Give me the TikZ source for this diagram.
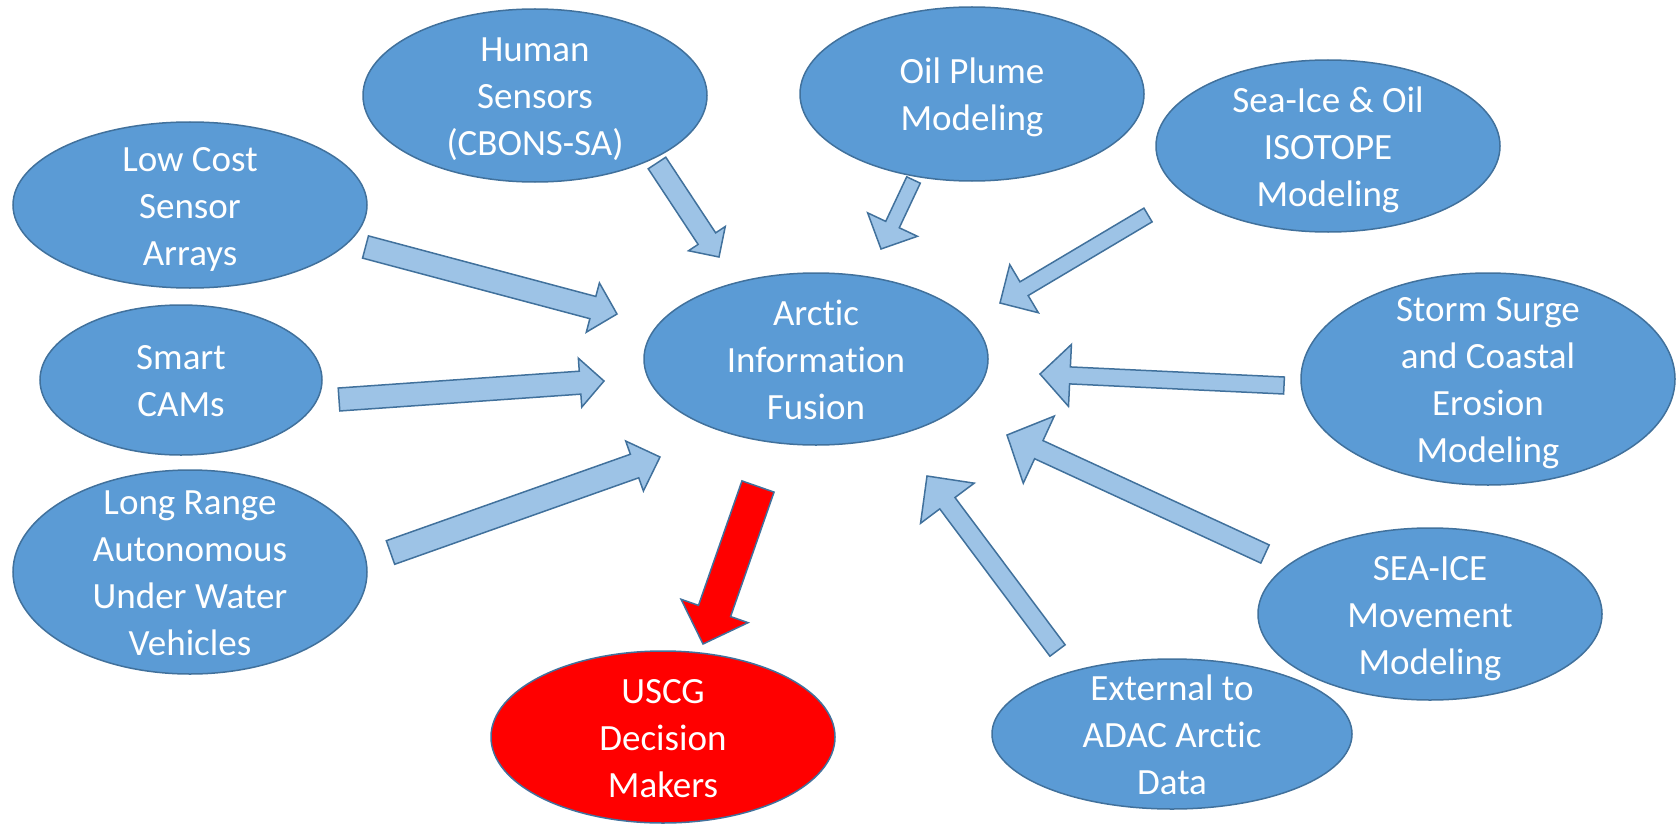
\documentclass[tikz,border=0pt]{standalone}
\usepackage{fontspec}
\setmainfont[Ligatures={NoCommon}]{Carlito}
\usetikzlibrary{calc,shapes.geometric}
\definecolor{nodeblue}{HTML}{5B9BD5}
\definecolor{edgeblue}{HTML}{41719C}
\definecolor{arrowblue}{HTML}{9DC3E6}
\definecolor{alertred}{HTML}{FF0000}
% #1 style, #2 tail coordinate, #3 tip coordinate, #4 shaft half width, #5 head half width, #6 head length
\newcommand\blockarrow[6][]{%
  \coordinate (hb) at ($(#3)!#6!(#2)$);
  \draw[#1] ($(#2)!#4!90:(#3)$) -- ($(hb)!#4!90:(#3)$) -- ($(hb)!#5!90:(#3)$) -- (#3)
    -- ($(hb)!#5!-90:(#3)$) -- ($(hb)!#4!-90:(#3)$) -- ($(#2)!#4!-90:(#3)$) -- cycle;}
\tikzset{
  bubble/.style={ellipse, draw=edgeblue, line width=1.5pt, fill=nodeblue, inner sep=0pt, outer sep=0pt},
  alertbubble/.style={bubble, fill=alertred},
  txt/.style={text=white, align=center, font=\fontsize{37}{47}\selectfont, inner sep=0pt, yshift=-4pt},
  flow/.style={draw=edgeblue, line width=1.5pt, fill=arrowblue, line join=miter},
  alertflow/.style={flow, fill=alertred}
}
\begin{document}
\begin{tikzpicture}[x=1pt,y=-1pt]
\useasboundingbox (0,0) rectangle (1677,824);
% ellipses
\node[bubble, minimum width=354, minimum height=166] (lowcost) at (190,205) {};
\node[bubble, minimum width=344, minimum height=173] (human) at (535,95.5) {};
\node[bubble, minimum width=344, minimum height=174] (oil) at (972,94) {};
\node[bubble, minimum width=344, minimum height=172] (isotope) at (1328,146) {};
\node[bubble, minimum width=374, minimum height=212] (storm) at (1488,379) {};
\node[bubble, minimum width=344, minimum height=172] (seaice) at (1430,614) {};
\node[bubble, minimum width=360, minimum height=150] (external) at (1172,734) {};
\node[alertbubble, minimum width=344, minimum height=172] (uscg) at (663,737) {};
\node[bubble, minimum width=344, minimum height=172] (fusion) at (816,359) {};
\node[bubble, minimum width=354, minimum height=204] (longrange) at (190,572) {};
\node[bubble, minimum width=282, minimum height=150] (smart) at (181,380) {};
% texts
\node[txt] (lowcostT) at (lowcost.center) {\strut Low Cost\\Sensor\\Arrays\strut};
\node[txt] (humanT) at (human.center) {\strut Human\\Sensors\\(CBONS-SA)\strut};
\node[txt] (oilT) at (oil.center) {\strut Oil Plume\\Modeling\strut};
\node[txt] (isotopeT) at (isotope.center) {\strut Sea-Ice \& Oil\\ISOTOPE\\Modeling\strut};
\node[txt] (stormT) at (storm.center) {\strut Storm Surge\\and Coastal\\Erosion\\Modeling\strut};
\node[txt] (seaiceT) at (seaice.center) {\strut SEA-ICE\\Movement\\Modeling\strut};
\node[txt] (externalT) at (external.center) {\strut External to\\ADAC Arctic\\Data\strut};
\node[txt] (uscgT) at (uscg.center) {\strut USCG\\Decision\\Makers\strut};
\node[txt] (fusionT) at (fusion.center) {\strut Arctic\\Information\\Fusion\strut};
\node[txt] (longrangeT) at (longrange.center) {\strut Long Range\\Autonomous\\Under Water\\Vehicles\strut};
\node[txt] (smartT) at (smart.center) {\strut Smart\\CAMs\strut};
% arrow end coordinates
\coordinate (aS) at (365.5,247);   \coordinate (aE) at (617,314);
\coordinate (bS) at (339,399.5);   \coordinate (bE) at (604,381);
\coordinate (cS) at (390.5,552.5); \coordinate (cE) at (660,457);
\coordinate (dS) at (657,163);     \coordinate (dE) at (719,257);
\coordinate (eS) at (913.5,180);   \coordinate (eE) at (881,249);
\coordinate (fS) at (1148,215);    \coordinate (fE) at (1000,303);
\coordinate (gS) at (1284,385.5);  \coordinate (gE) at (1040,374);
\coordinate (hS) at (1265,554);    \coordinate (hE) at (1007,435);
\coordinate (iS) at (1057.5,650.5);\coordinate (iE) at (927,476);
\coordinate (jS) at (758,486.5);   \coordinate (jE) at (703,644);
% block arrows
\blockarrow[flow]{aS}{aE}{11.5pt}{25.5pt}{25pt}
\blockarrow[flow]{bS}{bE}{11.5pt}{24.5pt}{24pt}
\blockarrow[flow]{cS}{cE}{12.5pt}{26.5pt}{27pt}
\blockarrow[flow]{dS}{dE}{10.5pt}{22pt}{22pt}
\blockarrow[flow]{eS}{eE}{7.5pt}{27.5pt}{27pt}
\blockarrow[flow]{fS}{fE}{8pt}{28pt}{28pt}
\blockarrow[flow]{gS}{gE}{8.5pt}{31pt}{30pt}
\blockarrow[flow]{hS}{hE}{10pt}{37pt}{35pt}
\blockarrow[flow]{iS}{iE}{9.5pt}{33.5pt}{34pt}
\blockarrow[alertflow]{jS}{jE}{17pt}{35.5pt}{35pt}
\end{tikzpicture}
\end{document}
